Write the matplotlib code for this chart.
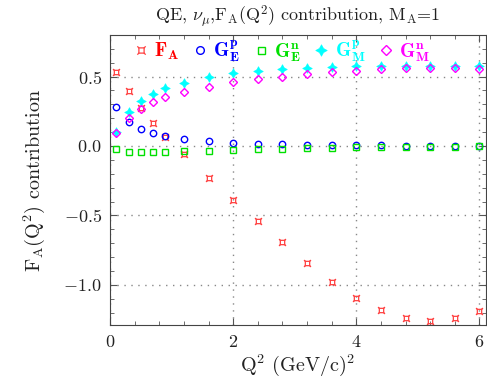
import numpy as np
import matplotlib
matplotlib.use("Agg")
import matplotlib.pyplot as plt
from matplotlib.path import Path
from matplotlib.ticker import MultipleLocator

plt.rcParams['font.family'] = ['cmr10', 'DejaVu Serif']
plt.rcParams['mathtext.fontset'] = 'cm'
plt.rcParams['axes.formatter.use_mathtext'] = True

# Q^2 sample points (GeV/c)^2
q2 = [0.1, 0.3, 0.5, 0.7, 0.9, 1.2, 1.6, 2.0, 2.4, 2.8, 3.2, 3.6, 4.0, 4.4, 4.8, 5.2, 5.6, 6.0]

fa = [0.536, 0.397, 0.272, 0.164, 0.067, -0.06, -0.227, -0.39, -0.539, -0.693,
      -0.842, -0.979, -1.094, -1.183, -1.239, -1.26, -1.241, -1.19]
ge_p = [0.284, 0.171, 0.12, 0.094, 0.072, 0.053, 0.036, 0.024, 0.014, 0.011,
        0.009, 0.007, 0.005, 0.004, 0.003, 0.002, 0.002, 0.002]
ge_n = [-0.022, -0.043, -0.045, -0.045, -0.044, -0.036, -0.034, -0.029, -0.024, -0.02,
        -0.016, -0.013, -0.01, -0.008, -0.006, -0.005, -0.004, -0.003]
gm_p = [0.103, 0.243, 0.322, 0.375, 0.414, 0.452, 0.498, 0.524, 0.541, 0.553,
        0.558, 0.568, 0.575, 0.577, 0.579, 0.579, 0.579, 0.578]
gm_n = [0.096, 0.2, 0.269, 0.32, 0.356, 0.392, 0.428, 0.457, 0.481, 0.499,
        0.515, 0.531, 0.541, 0.553, 0.561, 0.561, 0.559, 0.553]

labels = [r"$\mathbf{F}_\mathbf{A}$", r"$\mathbf{G}_\mathbf{E}^\mathbf{p}$", r"$\mathbf{G}_\mathbf{E}^\mathbf{n}$",
          r"$\mathbf{G}_\mathbf{M}^\mathbf{p}$", r"$\mathbf{G}_\mathbf{M}^\mathbf{n}$"]
label_colors = ['#ff0000', '#0000ff', '#00e000', '#00ffff', '#ff00ff']

# square with little spikes on the corners
verts = [(-1, -1), (1, -1), (1, 1), (-1, 1), (-1, -1),
         (-1, -1), (-1.6, -1.6), (1, -1), (1.6, -1.6),
         (1, 1), (1.6, 1.6), (-1, 1), (-1.6, 1.6)]
codes = [Path.MOVETO, Path.LINETO, Path.LINETO, Path.LINETO, Path.CLOSEPOLY,
         Path.MOVETO, Path.LINETO, Path.MOVETO, Path.LINETO,
         Path.MOVETO, Path.LINETO, Path.MOVETO, Path.LINETO]
fa_marker = Path(verts, codes)

fig = plt.figure(figsize=(4.87, 3.83), dpi=100)
ax = fig.add_axes([0.226, 0.151, 0.771, 0.758])

ax.plot(q2, fa, ls='none', marker=fa_marker, ms=5, mfc='none', mec='#ff4040', mew=0.9, label=labels[0])
ax.plot(q2, ge_p, ls='none', marker='o', ms=4.6, mfc='none', mec='#0000ff', mew=1.0, label=labels[1])
ax.plot(q2, ge_n, ls='none', marker='s', ms=4.2, mfc='none', mec='#00e000', mew=1.0, label=labels[2])
ax.plot(q2, gm_p, ls='none', marker=(4, 1, 0), ms=7, mfc='#00ffff', mec='#00ffff', mew=0.4, label=labels[3])
ax.plot(q2, gm_n, ls='none', marker='D', ms=4.4, mfc='none', mec='#ff00ff', mew=1.0, label=labels[4])

ax.set_xlim(0, 6.1)
ax.set_ylim(-1.29, 0.80)
ax.xaxis.set_major_locator(MultipleLocator(2))
ax.xaxis.set_minor_locator(MultipleLocator(0.4))
ax.yaxis.set_major_locator(MultipleLocator(0.5))
ax.yaxis.set_minor_locator(MultipleLocator(0.1))
ax.tick_params(which='both', direction='in', top=True, right=True, color='#555555',
               labelsize=13, labelcolor='#222222')
ax.tick_params(which='major', length=5, pad=6)
ax.tick_params(which='minor', length=3)
ax.grid(True, which='major', color='#888888', linestyle=(0, (1, 4)), linewidth=1.0)
for s in ax.spines.values():
    s.set_color('#444444')

ax.set_title(r"QE, $\nu_\mu$,F$_\mathrm{A}$(Q$^2$) contribution, M$_\mathrm{A}$=1",
             fontsize=13, color='#222222', pad=10)
ax.set_xlabel(r"Q$^2$ (GeV/c)$^2$", fontsize=14.5, color='#222222', labelpad=2)
ax.set_ylabel(r"F$_\mathrm{A}$(Q$^2$) contribution", fontsize=14.5, color='#222222', labelpad=12)

leg = ax.legend(loc='upper left', bbox_to_anchor=(0.032, 1.035), ncol=5, frameon=False,
                fontsize=14, handlelength=0.55, handletextpad=0.4, columnspacing=0.8,
                labelcolor=label_colors, borderaxespad=0.3, markerscale=1.2)

fig.savefig("out.png", dpi=100)
